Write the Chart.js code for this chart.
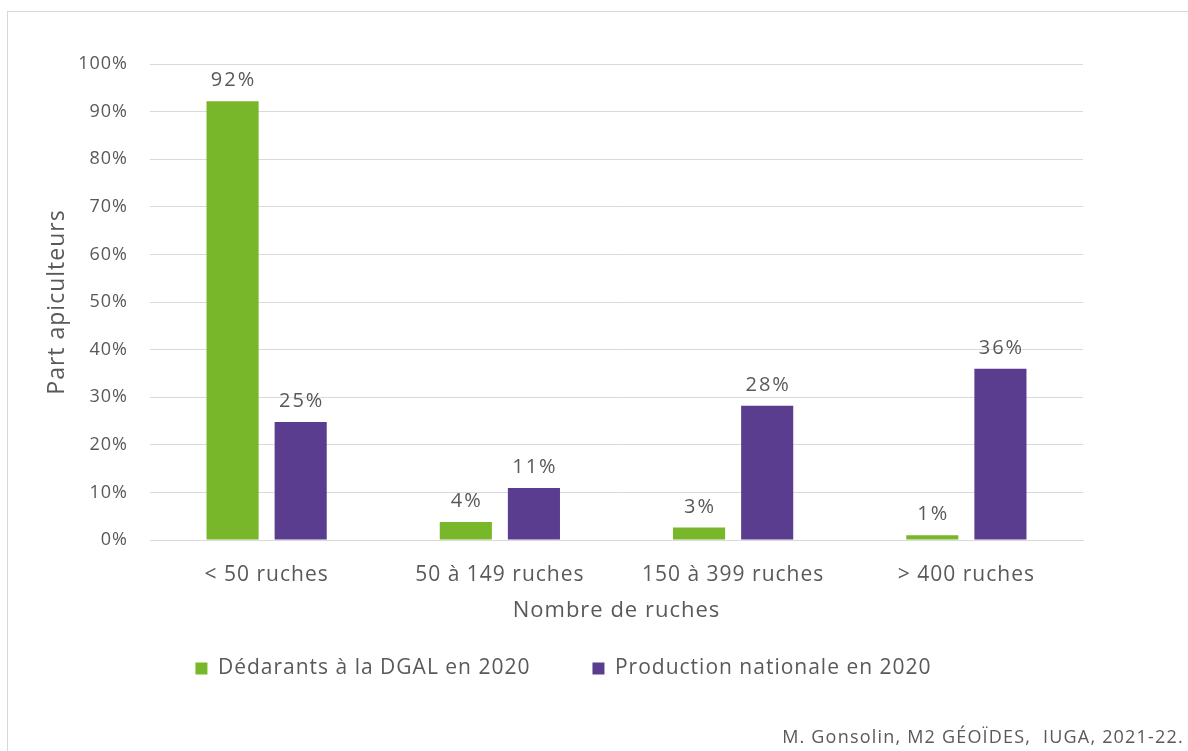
<!DOCTYPE html>
<html>
<head>
<meta charset="utf-8">
<script src="https://cdn.jsdelivr.net/npm/chart.js@4.4.1/dist/chart.umd.min.js"></script>
<style>
  html, body { margin: 0; padding: 0; background: #fff; }
  #wrap { position: relative; width: 1188px; height: 751px; }
  #frame { position: absolute; left: 7px; top: 11px; width: 1200px; height: 800px; border: 1px solid #D9D9D9; box-sizing: border-box; }
  canvas { position: absolute; left: 0; top: 0; }
</style>
</head>
<body>
<div id="wrap">
  <div id="frame"></div>
  <canvas id="c" width="1188" height="751"></canvas>
</div>
<script>
const categories = ["< 50 ruches", "50 à 149 ruches", "150 à 399 ruches", "> 400 ruches"];
const declarants = [92.2, 3.8, 2.6, 1.0];
const production = [24.8, 10.9, 28.2, 36.0];
const seriesNames = ["Dédarants à la DGAL en 2020", "Production nationale en 2020"];
const yTicks = [0, 10, 20, 30, 40, 50, 60, 70, 80, 90, 100];
const yTitle = "Part apiculteurs";
const xTitle = "Nombre de ruches";
const caption = "M. Gonsolin, M2 GÉOÏDES,  IUGA, 2021-22.";

const FONT = '"Open Sans", Lato, sans-serif';
const TXT = '#595959';

const spacing = {
  id: 'spacing',
  beforeInit(chart) { chart.ctx.letterSpacing = '1px'; },
  beforeUpdate(chart) { chart.ctx.letterSpacing = '1px'; },
  afterLayout(chart) {
    if (chart.legend) { chart.legend.top -= 32; chart.legend.bottom -= 32; }
  },
  beforeDraw(chart) { chart.ctx.letterSpacing = '1px'; }
};
const dataLabels = {
  id: 'dataLabels',
  afterDatasetsDraw(chart) {
    const ctx = chart.ctx;
    ctx.save();
    ctx.letterSpacing = '2px';
    ctx.font = '20px ' + FONT;
    ctx.fillStyle = TXT;
    ctx.textAlign = 'center';
    ctx.textBaseline = 'alphabetic';
    chart.data.datasets.forEach((ds, i) => {
      chart.getDatasetMeta(i).data.forEach((bar, j) => {
        ctx.fillText(Math.round(ds.data[j]) + '%', bar.x + 1, bar.y - 15);
      });
    });
    ctx.restore();
  }
};
const captionPlugin = {
  id: 'caption',
  afterDraw(chart) {
    const ctx = chart.ctx;
    ctx.save();
    ctx.letterSpacing = '1.2px';
    ctx.font = '18px ' + FONT;
    ctx.fillStyle = TXT;
    ctx.textAlign = 'right';
    ctx.textBaseline = 'middle';
    ctx.fillText(caption, 1184, 738);
    ctx.restore();
  }
};

new Chart(document.getElementById('c'), {
  type: 'bar',
  data: {
    labels: categories,
    datasets: [
      { label: seriesNames[0], data: declarants, backgroundColor: '#78B62A', barPercentage: 0.765, categoryPercentage: 0.584 },
      { label: seriesNames[1], data: production, backgroundColor: '#5A3D8E', barPercentage: 0.765, categoryPercentage: 0.584 }
    ]
  },
  options: {
    responsive: false,
    animation: false,
    layout: { padding: { left: 44, right: 105, top: 64, bottom: 30 } },
    plugins: {
      tooltip: { enabled: false },
      legend: {
        position: 'bottom',
        labels: {
          font: { family: FONT, size: 21 },
          color: TXT,
          boxWidth: 12, boxHeight: 12,
          padding: 62,
          generateLabels(chart) {
            return chart.data.datasets.map((ds, i) => ({
              text: ds.label, fillStyle: ds.backgroundColor, strokeStyle: ds.backgroundColor,
              lineWidth: 0, datasetIndex: i, fontColor: TXT
            }));
          }
        }
      }
    },
    scales: {
      x: {
        grid: { display: false },
        border: { color: '#D9D9D9' },
        ticks: { font: { family: FONT, size: 21 }, color: TXT, padding: 14 },
        title: { display: true, text: xTitle, font: { family: FONT, size: 22 }, color: TXT, padding: { top: 2 } },
        afterFit(s) { s.height = 88; }
      },
      y: {
        min: 0, max: 100,
        afterBuildTicks(s) { s.ticks = yTicks.map(v => ({ value: v })); },
        grid: { color: '#D9D9D9', drawTicks: false },
        border: { display: false },
        ticks: { font: { family: FONT, size: 18 }, color: TXT, padding: 22, callback: v => v + '%' },
        title: { display: true, text: yTitle, font: { family: FONT, size: 23 }, color: TXT, padding: 0 },
        afterFit(s) { s.width = 106; }
      }
    }
  },
  plugins: [spacing, dataLabels, captionPlugin]
});
</script>
</body>
</html>
